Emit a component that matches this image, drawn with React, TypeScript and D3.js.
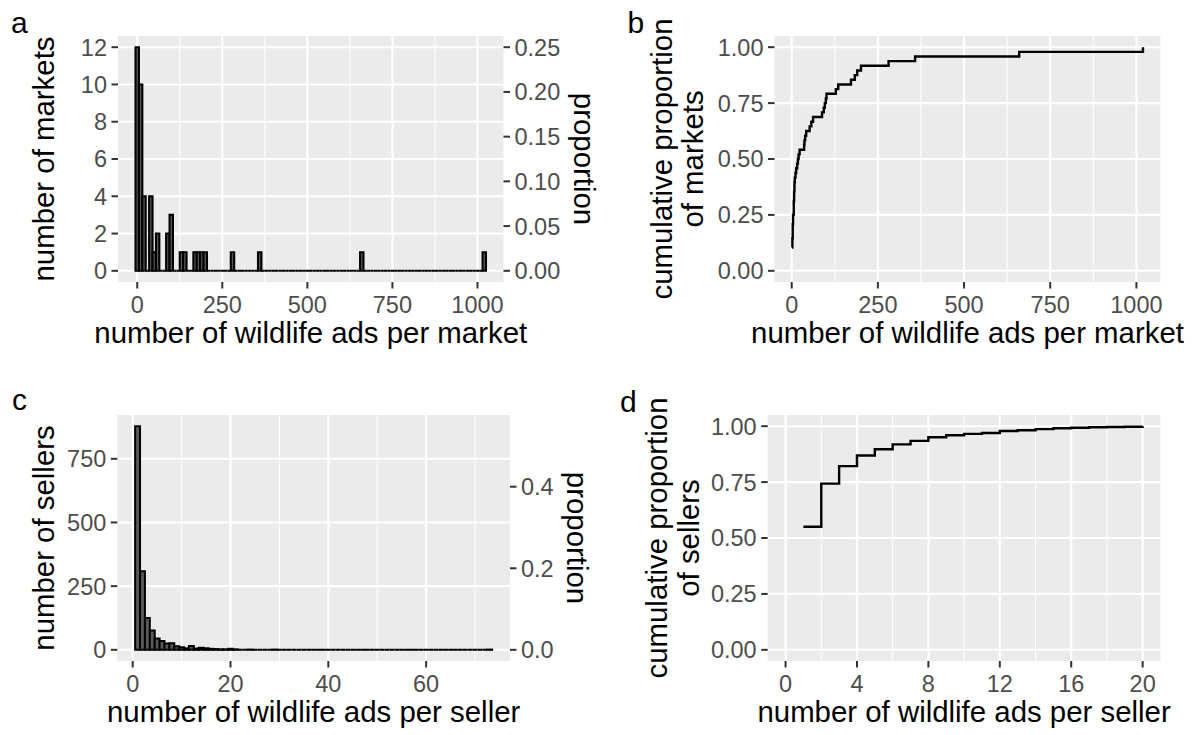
import React from "react";
import * as d3 from "d3";

const FONT = "'Liberation Sans', Arial, Helvetica, sans-serif";
const TICK_FONT = 23.5;
const TITLE_FONT = 29.4;
const TICK_LEN = 6.5;
const TICK_PAD = 4.5;
const PANEL_BG = "#EBEBEB";
const TEXT_GREY = "#4D4D4D";
const TICK_GREY = "#333333";
const BAR_FILL = "#595959";

// Wildlife ads found on each of the 48 online markets
const marketAds = [
  1, 1, 1, 1, 1, 2, 2, 3, 3, 3, 4, 4,
  6, 6, 6, 7, 7, 8, 8, 9, 11, 13,
  16, 18, 20, 23,
  36, 37, 39, 42,
  52,
  57, 62,
  88, 93,
  96, 99, 101,
  128, 135,
  172, 183, 190, 201,
  281, 358, 660, 1019,
];
const marketBinWidth = 10;

const marketBreaksX = [0, 250, 500, 750, 1000];
const marketCountBreaks = [0, 2, 4, 6, 8, 10, 12];
const marketPropBreaks = [0, 0.05, 0.1, 0.15, 0.2, 0.25];
const cumBreaks = [0, 0.25, 0.5, 0.75, 1];

// Number of sellers posting a given number of wildlife ads
const sellerAdValues = [
  1, 2, 3, 4, 5, 6, 7, 8, 9, 10, 11, 12, 13, 14, 15, 16, 17, 18, 19, 20,
  21, 24, 29, 73,
];
const sellerCounts = [
  878, 308, 125, 76, 44, 35, 25, 26, 14, 10, 6, 15, 5, 8, 6, 4, 3, 2, 2, 4,
  2, 1, 1, 1,
];

const sellerBreaksX = [0, 20, 40, 60];
const sellerCountBreaks = [0, 250, 500, 750];
const sellerPropBreaks = [0, 0.2, 0.4];
const sellerCumBreaksX = [0, 4, 8, 12, 16, 20];
const sellerCumMax = 20;

type Box = { left: number; right: number; top: number; bottom: number };
type Scale = d3.ScaleLinear<number, number>;

function expand([a, b]: [number, number]): [number, number] {
  const d = (b - a) * 0.05;
  return [a - d, b + d];
}

function minorBreaks(breaks: number[], domain: number[]) {
  const step = breaks[1] - breaks[0];
  const out: number[] = [];
  for (let i = -1; i < breaks.length; i++) {
    const v = breaks[0] + step * (i + 0.5);
    if (v > domain[0] && v < domain[1]) out.push(v);
  }
  return out;
}

type PanelProps = {
  box: Box;
  x: Scale;
  y: Scale;
  xBreaks: number[];
  xFmt: (v: number) => string;
  yBreaks: number[];
  yFmt: (v: number) => string;
  right?: { breaks: number[]; fmt: (v: number) => string; toY: (v: number) => number; titleX: number };
  xTitle: string;
  yTitle: string[];
  yTitleX: number[];
  children?: React.ReactNode;
};

function Panel(p: PanelProps) {
  const { box, x, y } = p;
  const w = box.right - box.left;
  const h = box.bottom - box.top;
  const xd = x.domain();
  const yd = y.domain();
  const xMajor = p.xBreaks.filter((v) => v >= xd[0] && v <= xd[1]);
  const xMinor = minorBreaks(p.xBreaks, xd);
  const yMajor = p.yBreaks.filter((v) => v >= yd[0] && v <= yd[1]);
  const cy = (box.top + box.bottom) / 2;
  return (
    <g>
      <rect x={box.left} y={box.top} width={w} height={h} fill={PANEL_BG} />
      {xMinor.map((v) => (
        <line key={"xm" + v} x1={x(v)} x2={x(v)} y1={box.top} y2={box.bottom} stroke="#fff" strokeWidth={1.05} />
      ))}
      {xMajor.map((v) => (
        <line key={"xM" + v} x1={x(v)} x2={x(v)} y1={box.top} y2={box.bottom} stroke="#fff" strokeWidth={2.1} />
      ))}
      {yMajor.map((v) => (
        <line key={"yM" + v} x1={box.left} x2={box.right} y1={y(v)} y2={y(v)} stroke="#fff" strokeWidth={2.1} />
      ))}
      {p.children}
      {/* left axis */}
      {yMajor.map((v) => (
        <g key={"yl" + v}>
          <line x1={box.left - TICK_LEN} x2={box.left} y1={y(v)} y2={y(v)} stroke={TICK_GREY} strokeWidth={2} />
          <text x={box.left - TICK_LEN - TICK_PAD} y={y(v)} dy="0.36em" textAnchor="end" fontSize={TICK_FONT} fill={TEXT_GREY}>
            {p.yFmt(v)}
          </text>
        </g>
      ))}
      {/* bottom axis */}
      {xMajor.map((v) => (
        <g key={"xl" + v}>
          <line x1={x(v)} x2={x(v)} y1={box.bottom} y2={box.bottom + TICK_LEN} stroke={TICK_GREY} strokeWidth={2} />
          <text x={x(v)} y={box.bottom + 31} textAnchor="middle" fontSize={TICK_FONT} fill={TEXT_GREY}>
            {p.xFmt(v)}
          </text>
        </g>
      ))}
      {/* secondary axis */}
      {p.right &&
        p.right.breaks.map((v) => {
          const yy = p.right!.toY(v);
          return (
            <g key={"rl" + v}>
              <line x1={box.right} x2={box.right + TICK_LEN} y1={yy} y2={yy} stroke={TICK_GREY} strokeWidth={2} />
              <text x={box.right + TICK_LEN + TICK_PAD} y={yy} dy="0.36em" textAnchor="start" fontSize={TICK_FONT} fill={TEXT_GREY}>
                {p.right!.fmt(v)}
              </text>
            </g>
          );
        })}
      {p.right && (
        <text transform={`translate(${p.right.titleX},${cy}) rotate(90)`} textAnchor="middle" fontSize={TITLE_FONT} fill="#000">
          proportion
        </text>
      )}
      <text x={(box.left + box.right) / 2} y={box.bottom + 61} textAnchor="middle" fontSize={TITLE_FONT} fill="#000">
        {p.xTitle}
      </text>
      {p.yTitle.map((t, i) => (
        <text key={t} transform={`translate(${p.yTitleX[i]},${cy}) rotate(-90)`} textAnchor="middle" fontSize={TITLE_FONT} fill="#000">
          {t}
        </text>
      ))}
    </g>
  );
}

function barPath(x: Scale, y: Scale, x0: number, x1: number, n: number) {
  return `M${x(x0)},${y(0)}V${y(n)}H${x(x1)}V${y(0)}Z`;
}

export default function App() {
  const intFmt = d3.format("d");
  const f2 = d3.format(".2f");
  const f1 = d3.format(".1f");

  // ---- a: markets histogram ----
  const boxA: Box = { left: 118, right: 503.5, top: 36, bottom: 282 };
  const mMin = d3.min(marketAds)!;
  const mMax = d3.max(marketAds)!;
  const binLo = Math.round(mMin / marketBinWidth) * marketBinWidth - marketBinWidth / 2;
  const binHi = Math.round(mMax / marketBinWidth) * marketBinWidth + marketBinWidth / 2;
  const marketBins = d3
    .bin()
    .domain([binLo, binHi])
    .thresholds(d3.range(binLo + marketBinWidth, binHi, marketBinWidth))(marketAds);
  const nMarkets = marketAds.length;
  const maxBin = d3.max(marketBins, (b) => b.length)!;
  const xA = d3.scaleLinear().domain(expand([binLo, binHi])).range([boxA.left, boxA.right]);
  const yA = d3.scaleLinear().domain(expand([0, maxBin])).range([boxA.bottom, boxA.top]);

  // ---- b: markets ECDF ----
  const boxB: Box = { left: 774.5, right: 1160.5, top: 36, bottom: 282 };
  const sortedM = [...marketAds].sort(d3.ascending);
  const uniqM = Array.from(new Set(sortedM));
  const ecdfM: [number, number][] = uniqM.map((v) => [v, d3.bisectRight(sortedM, v) / nMarkets]);
  const xB = d3.scaleLinear().domain(expand([mMin, mMax])).range([boxB.left, boxB.right]);
  const yB = d3.scaleLinear().domain(expand([0, 1])).range([boxB.bottom, boxB.top]);
  const lineB = d3
    .line<[number, number]>()
    .x((d) => xB(d[0]))
    .y((d) => yB(d[1]))
    .curve(d3.curveStepAfter);

  // ---- c: sellers histogram ----
  const boxC: Box = { left: 117.3, right: 510, top: 415, bottom: 661 };
  const sMax = d3.max(sellerAdValues)!;
  const countOf = new Map(sellerAdValues.map((v, i) => [v, sellerCounts[i]]));
  const sellerBins = d3.range(1, sMax + 1).map((v) => ({ v, n: countOf.get(v) ?? 0 }));
  const nSellers = d3.sum(sellerCounts);
  const xC = d3.scaleLinear().domain(expand([0.5, sMax + 0.5])).range([boxC.left, boxC.right]);
  const yC = d3.scaleLinear().domain(expand([0, d3.max(sellerCounts)!])).range([boxC.bottom, boxC.top]);

  // ---- d: sellers ECDF (up to 20 ads) ----
  const boxD: Box = { left: 767.7, right: 1160.5, top: 415, bottom: 661 };
  const kept = sellerAdValues.map((v, i) => ({ v, n: sellerCounts[i] })).filter((d) => d.v <= sellerCumMax);
  const nKept = d3.sum(kept, (d) => d.n);
  const cum = d3.cumsum(kept, (d) => d.n);
  const ecdfS: [number, number][] = kept.map((d, i) => [d.v, cum[i] / nKept]);
  const xD = d3.scaleLinear().domain(expand([0, sellerCumMax])).range([boxD.left, boxD.right]);
  const yD = d3.scaleLinear().domain(expand([0, 1])).range([boxD.bottom, boxD.top]);
  const lineD = d3
    .line<[number, number]>()
    .x((d) => xD(d[0]))
    .y((d) => yD(d[1]))
    .curve(d3.curveStepAfter);

  return (
    <svg
      width={1197}
      height={735}
      style={{ position: "absolute", left: 0, top: 0, background: "#fff" }}
      fontFamily={FONT}
    >
      <rect width={1197} height={735} fill="#fff" />

      <Panel
        box={boxA}
        x={xA}
        y={yA}
        xBreaks={marketBreaksX}
        xFmt={intFmt}
        yBreaks={marketCountBreaks}
        yFmt={intFmt}
        right={{ breaks: marketPropBreaks, fmt: f2, toY: (v) => yA(v * nMarkets), titleX: 574 }}
        xTitle="number of wildlife ads per market"
        yTitle={["number of markets"]}
        yTitleX={[53.5]}
      >
        {marketBins.map((b, i) => (
          <path
            key={i}
            d={barPath(xA, yA, b.x0!, b.x1!, b.length)}
            fill={BAR_FILL}
            stroke="#000"
            strokeWidth={2.1}
          />
        ))}
      </Panel>

      <Panel
        box={boxB}
        x={xB}
        y={yB}
        xBreaks={marketBreaksX}
        xFmt={intFmt}
        yBreaks={cumBreaks}
        yFmt={f2}
        xTitle="number of wildlife ads per market"
        yTitle={["cumulative proportion", "of markets"]}
        yTitleX={[672, 703]}
      >
        <path d={lineB(ecdfM)!} fill="none" stroke="#000" strokeWidth={2.4} />
      </Panel>

      <Panel
        box={boxC}
        x={xC}
        y={yC}
        xBreaks={sellerBreaksX}
        xFmt={intFmt}
        yBreaks={sellerCountBreaks}
        yFmt={intFmt}
        right={{ breaks: sellerPropBreaks, fmt: f1, toY: (v) => yC(v * nSellers), titleX: 566.5 }}
        xTitle="number of wildlife ads per seller"
        yTitle={["number of sellers"]}
        yTitleX={[53.5]}
      >
        {sellerBins.map((b) => (
          <path
            key={b.v}
            d={barPath(xC, yC, b.v - 0.5, b.v + 0.5, b.n)}
            fill={BAR_FILL}
            stroke="#000"
            strokeWidth={2}
          />
        ))}
      </Panel>

      <Panel
        box={boxD}
        x={xD}
        y={yD}
        xBreaks={sellerCumBreaksX}
        xFmt={intFmt}
        yBreaks={cumBreaks}
        yFmt={f2}
        xTitle="number of wildlife ads per seller"
        yTitle={["cumulative proportion", "of sellers"]}
        yTitleX={[667, 699]}
      >
        <path d={lineD(ecdfS)!} fill="none" stroke="#000" strokeWidth={2.4} />
      </Panel>

      <g fontSize={30} fill="#000">
        <text x={11} y={33}>a</text>
        <text x={627.5} y={33}>b</text>
        <text x={12} y={410}>c</text>
        <text x={620} y={412}>d</text>
      </g>
    </svg>
  );
}
